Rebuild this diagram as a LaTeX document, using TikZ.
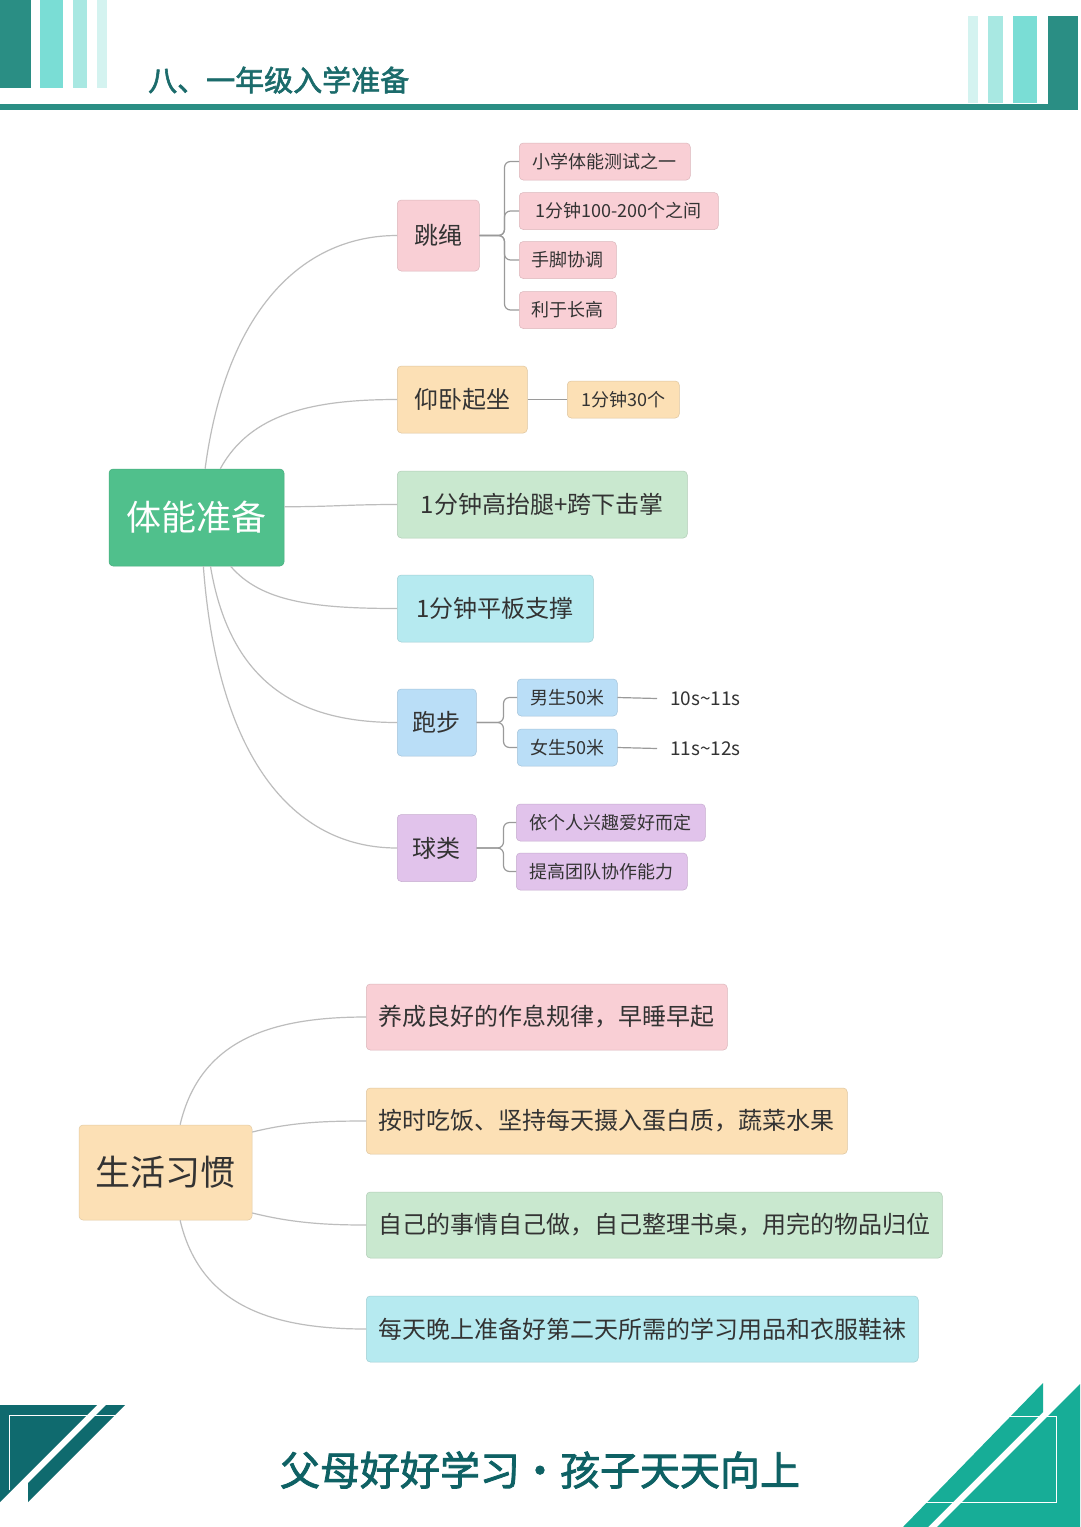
\documentclass[tikz,border=0pt]{standalone}
\usepackage{fontspec}
\setmainfont{Noto Sans CJK SC}
\newfontfamily\boldcjk{Noto Sans CJK SC}[FakeBold=2]
\usepackage{tikz}

\definecolor{hdark}{HTML}{2A8E84}
\definecolor{hbright}{HTML}{7ADDD5}
\definecolor{hmid}{HTML}{A8E8E2}
\definecolor{hlight}{HTML}{D4F3F0}
\definecolor{titleteal}{HTML}{1B6B6B}
\definecolor{footdark}{HTML}{0F6A6E}
\definecolor{footteal}{HTML}{17AD97}
\definecolor{mottoteal}{HTML}{0E6164}
\definecolor{rootgreen}{HTML}{50C08C}
\definecolor{pinkF}{HTML}{F9CFD5}
\definecolor{orangeF}{HTML}{FCE0B5}
\definecolor{greenF}{HTML}{C9E8CF}
\definecolor{cyanF}{HTML}{B6EAF0}
\definecolor{blueF}{HTML}{BADEF7}
\definecolor{purpleF}{HTML}{E1C3EB}
\definecolor{txtgray}{HTML}{333333}
\definecolor{wire}{HTML}{BDBDBD}
\definecolor{brkgray}{HTML}{9A9A9A}

\tikzset{
  rootbox/.style={fill=#1, draw=#1!90!black, line width=0.5pt, rounded corners=4pt,
    minimum width=175pt, minimum height=97pt, inner sep=4pt,
    font=\fontsize{35}{38}\selectfont},
  lvone/.style={fill=#1, draw=#1!88!black, line width=0.5pt, rounded corners=4pt,
    anchor=west, text=txtgray, minimum height=67pt, inner sep=4pt,
    font=\fontsize{24}{26}\selectfont},
  lvtwo/.style={fill=#1, draw=#1!88!black, line width=0.5pt, rounded corners=4pt,
    anchor=west, text=txtgray, minimum height=37pt, inner sep=4pt,
    font=\fontsize{18}{20}\selectfont},
  timetxt/.style={anchor=west, text=txtgray, inner xsep=13pt,
    font=\fontsize{19}{21}\selectfont},
  curve/.style={draw=wire, line width=1.2pt},
  brk/.style={draw=brkgray, line width=1.2pt, rounded corners=6pt},
}

\begin{document}
\begin{tikzpicture}[x=1pt, y=-1pt]

\useasboundingbox (0,0) rectangle (1080,1527);
\fill[white] (0,0) rectangle (1080,1527);

\foreach \xa\xb\col in {0/31/hdark,40/63/hbright,73/87/hmid,97/107/hlight}
\fill[\col] (\xa,0) rectangle (\xb,88);
\foreach \xa\xb\col in {968/978/hlight,988/1003/hmid,1013/1037/hbright}
\fill[\col] (\xa,16) rectangle (\xb,103);
\fill[hdark] (1048,16) rectangle (1078,110);
\fill[hdark] (0,104) rectangle (1078,110);

\node[anchor=west, inner sep=0pt, text=titleteal, font=\boldcjk\fontsize{29}{31}\selectfont] (title) at (148,80) {八、一年级入学准备};

\node[rootbox=rootgreen, text=white] (tineng) at (196.5,517.5) {体能准备};

\node[lvone=pinkF, minimum width=82pt, minimum height=71pt] (tiaosheng) at (397,235.5) {跳绳};
\node[lvtwo=pinkF, minimum width=171pt] (ts1) at (519,161.5) {小学体能测试之一};
\node[lvtwo=pinkF, minimum width=199pt] (ts2) at (519,211) {1分钟100-200个之间};
\node[lvtwo=pinkF, minimum width=97pt] (ts3) at (519,260) {手脚协调};
\node[lvtwo=pinkF, minimum width=97pt] (ts4) at (519,310) {利于长高};

\node[lvone=orangeF, minimum width=130pt] (yangwo) at (397,399.5) {仰卧起坐};
\node[lvtwo=orangeF, minimum width=112pt] (yw1) at (567,399.5) {1分钟30个};

\node[lvone=greenF, minimum width=290pt] (taitui) at (397,504.5) {1分钟高抬腿+跨下击掌};
\node[lvone=cyanF, minimum width=196pt] (pingban) at (397,608.5) {1分钟平板支撑};

\node[lvone=blueF, minimum width=79pt] (paobu) at (397,722.5) {跑步};
\node[lvtwo=blueF, minimum width=100pt] (nan) at (517,697.5) {男生50米};
\node[lvtwo=blueF, minimum width=100pt] (nv) at (517,747.5) {女生50米};
\node[timetxt] (nantime) at (657,698.5) {10s\textasciitilde 11s};
\node[timetxt] (nvtime) at (657,748.5) {11s\textasciitilde 12s};

\node[lvone=purpleF, minimum width=79pt] (qiulei) at (397,848) {球类};
\node[lvtwo=purpleF, minimum width=189pt] (ql1) at (516,822.5) {依个人兴趣爱好而定};
\node[lvtwo=purpleF, minimum width=171pt] (ql2) at (516,871.5) {提高团队协作能力};

\draw[curve] (tineng.80) .. controls +(22,-165) and +(-90,0) .. (tiaosheng.west);
\draw[curve] (tineng.64) .. controls +(30,-55) and +(-85,0) .. (yangwo.west);
\draw[curve] (tineng.7) .. controls +(50,0) and +(-50,0) .. (taitui.west);
\draw[curve] (tineng.-55) .. controls +(30,35) and +(-85,0) .. (pingban.west);
\draw[curve] (tineng.-74) .. controls +(20,120) and +(-95,0) .. (paobu.west);
\draw[curve] (tineng.-82) .. controls +(14,190) and +(-105,0) .. (qiulei.west);

\foreach \c in {ts1,ts2,ts3,ts4}
\draw[brk] (tiaosheng.east) -- ++(25,0) |- (\c.west);
\foreach \c in {nan,nv}
\draw[brk] (paobu.east) -- ++(27,0) |- (\c.west);
\foreach \c in {ql1,ql2}
\draw[brk] (qiulei.east) -- ++(27,0) |- (\c.west);
\draw[brk] (yangwo.east) -- (yw1.west);
\draw[brk] (nan.east) -- (nantime.west);
\draw[brk] (nv.east) -- (nvtime.west);

\node[rootbox=orangeF, text=txtgray, minimum width=173pt, minimum height=95pt] (shenghuo) at (165.5,1172.5) {生活习惯};

\node[lvone=pinkF, minimum width=361pt, minimum height=66pt] (hab1) at (366,1017) {养成良好的作息规律，早睡早起};
\node[lvone=orangeF, minimum width=481pt, minimum height=66pt] (hab2) at (366,1121) {按时吃饭、坚持每天摄入蛋白质，蔬菜水果};
\node[lvone=greenF, minimum width=576pt, minimum height=66pt] (hab3) at (366,1225) {自己的事情自己做，自己整理书桌，用完的物品归位};
\node[lvone=cyanF, minimum width=552pt, minimum height=66pt] (hab4) at (366,1329) {每天晚上准备好第二天所需的学习用品和衣服鞋袜};

\draw[curve] (shenghuo.73) .. controls +(20,-85) and +(-95,0) .. (hab1.west);
\draw[curve] (shenghuo.25) .. controls +(40,-10) and +(-40,0) .. (hab2.west);
\draw[curve] (shenghuo.-25) .. controls +(40,10) and +(-40,0) .. (hab3.west);
\draw[curve] (shenghuo.-73) .. controls +(20,85) and +(-95,0) .. (hab4.west);

\fill[footdark] (0,1405) -- (97,1405) -- (0,1502) -- cycle;
\fill[footdark] (106,1405) -- (125,1405) -- (28,1502) -- (28,1483) -- cycle;
\draw[white, line width=1pt] (9,1490) -- (9,1415) -- (116,1415);

\fill[footteal] (903,1527) -- (1043,1383) -- (1043,1412) -- (928,1527) -- cycle;
\fill[footteal] (937,1527) -- (1080,1384) -- (1080,1527) -- cycle;
\draw[white, line width=1pt] (923,1416) rectangle (1056,1502);

\node[text=mottoteal, font=\boldcjk\fontsize{40}{44}\selectfont] (motto) at (540,1470) {父母好好学习・孩子天天向上};

\end{tikzpicture}
\end{document}
